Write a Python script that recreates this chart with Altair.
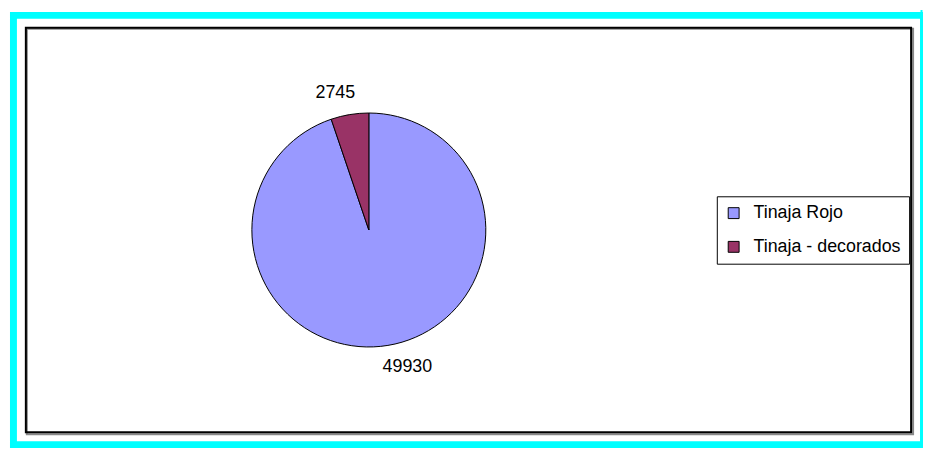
import altair as alt
import pandas as pd

categories = ["Tinaja Rojo", "Tinaja - decorados"]
values = [49930, 2745]
order_idx = [0, 1]
colors = ["#9999FF", "#993366"]

df = pd.DataFrame({"category": categories, "value": values, "idx": order_idx})
one = pd.DataFrame({"a": [0]})

W, H = 923, 442
CX, CY, R = 364, 222, 118
FONT = "Liberation Sans"

cyan = alt.Chart(one).mark_rect(fill=None, stroke="#00FFFF", strokeWidth=7).encode(
    x=alt.value(5.5), x2=alt.value(923.5), y=alt.value(5.5), y2=alt.value(438.5)
)
cyan_thin = alt.Chart(one).mark_rule(stroke="#00FFFF", strokeWidth=2).encode(
    x=alt.value(921.5), y=alt.value(0), y2=alt.value(442)
)
shadow = alt.Chart(one).mark_rect(fill=None, stroke="#888888", strokeWidth=2).encode(
    x=alt.value(19), x2=alt.value(913), y=alt.value(19), y2=alt.value(428)
)
frame = alt.Chart(one).mark_rect(fill=None, stroke="black", strokeWidth=2).encode(
    x=alt.value(18), x2=alt.value(911), y=alt.value(18), y2=alt.value(426)
)

base = alt.Chart(df).encode(
    theta=alt.Theta("value:Q", stack=True),
    order=alt.Order("idx:Q"),
    x=alt.value(CX),
    y=alt.value(CY),
)

pie = base.mark_arc(outerRadius=R, stroke="black", strokeWidth=1).encode(
    color=alt.Color(
        "category:N",
        scale=alt.Scale(domain=categories, range=colors),
        title=None,
        legend=alt.Legend(
            orient="none",
            legendX=715,
            legendY=188,
            strokeColor="black",
            fillColor="white",
            padding=8,
            symbolType="square",
            symbolSize=121,
            symbolStrokeColor="black",
            symbolStrokeWidth=1,
            symbolOpacity=1,
            labelFont=FONT,
            labelFontSize=18,
            labelColor="black",
            labelOffset=11,
            rowPadding=16,
            labelLimit=400,
        ),
    )
)

lab1 = base.mark_text(radius=140, dx=16, font=FONT, fontSize=18, color="black", baseline="middle").encode(
    text=alt.condition(alt.datum.category == "Tinaja Rojo", alt.Text("value:Q", format="d"), alt.value(""))
)
lab2 = base.mark_text(radius=140, dx=-11, font=FONT, fontSize=18, color="black", baseline="middle").encode(
    text=alt.condition(alt.datum.category == "Tinaja - decorados", alt.Text("value:Q", format="d"), alt.value(""))
)

chart = alt.layer(cyan, cyan_thin, shadow, frame, pie, lab1, lab2).properties(
    width=W,
    height=H,
    autosize=alt.AutoSizeParams(type="none"),
    padding=0,
    background="white",
).configure_view(stroke=None)

chart.save("out.html", embed_options={"renderer": "svg", "actions": False})
